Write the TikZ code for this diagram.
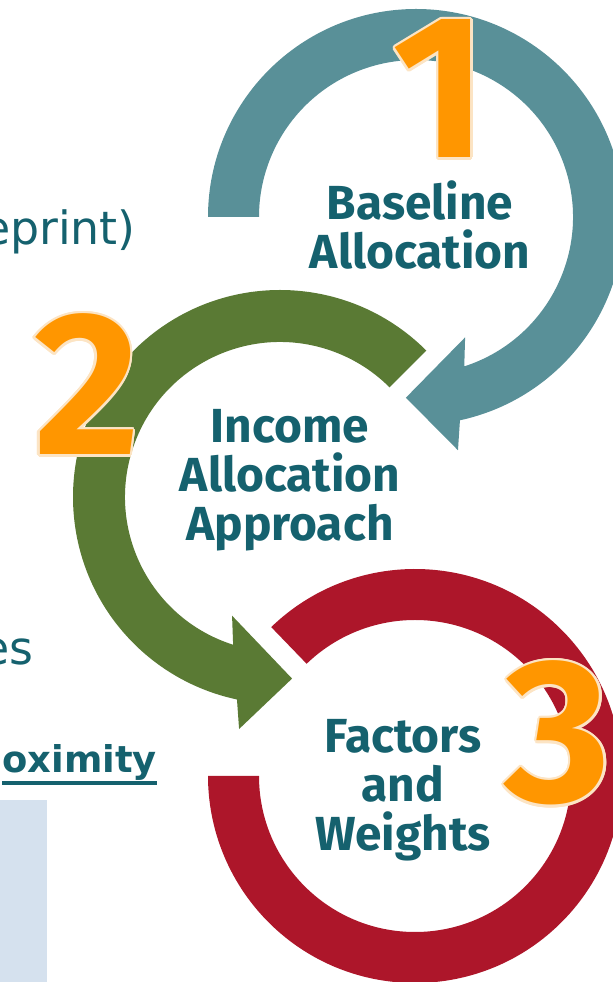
\documentclass[tikz,border=0pt]{standalone}
\usepackage{fontspec}
\setmainfont{Fira Sans}
\newfontfamily\slidefont{DejaVu Sans}
\usepackage[copies]{contour}
\usetikzlibrary{calc}
\definecolor{RingTeal}{RGB}{89,144,152}
\definecolor{RingGreen}{RGB}{90,122,52}
\definecolor{RingRed}{RGB}{173,22,42}
\definecolor{LabelTeal}{RGB}{21,97,110}
\definecolor{NumOrange}{RGB}{255,150,0}
\definecolor{NumCream}{RGB}{252,228,196}
\definecolor{PanelBlue}{RGB}{213,225,238}
\contourlength{2.5bp}
\tikzset{
  digit/.style={inner sep=0pt,anchor=base,text=NumOrange,
                font=\fontsize{205}{205}\selectfont\bfseries},
  steplabel/.style={align=center,anchor=base,inner sep=0pt,text=LabelTeal,
                    font=\fontsize{48}{49.5}\selectfont\bfseries},
  slidetext/.style={inner sep=0pt,anchor=base east,text=LabelTeal,
                    font=\slidefont\fontsize{46}{52}\selectfont},
}
\newcommand{\stepnum}[1]{\contour{NumCream}{#1}}

\begin{document}
\begin{tikzpicture}[x=1bp,y=1bp]
  \useasboundingbox (0,0) rectangle (613,982);
  \clip (0,0) rectangle (613,982);
  \coordinate (c1) at (416,765);
  \coordinate (c2) at (280,485);
  \coordinate (c3) at (415,206);

  % slide text behind the cycle
  \fill[PanelBlue] (0,0) rectangle (47,182);
  \node[slidetext] (prt) at (136,737) {eprint)};
  \node[slidetext] (es) at (34,317) {es};
  \node[slidetext,font=\slidefont\bfseries\fontsize{37}{44}\selectfont] (prox) at (157,209) {oximity};
  \draw[LabelTeal,line width=3.5] ([yshift=-10]prox.base west) -- ([yshift=-10]prox.base east);

  % ring 1
  \fill[RingTeal] ($(c1)+(180:208)$) arc[start angle=180,end angle=-77.8,radius=208]
    -- ($(c1)+(-79.8:237)$) -- ($(c1)+(-93.2:181)$) -- ($(c1)+(-67.8:130)$)
    -- ($(c1)+(-72.1:157)$) arc[start angle=-72.1,end angle=180,radius=157] -- cycle;
  % ring 2
  \fill[RingGreen] ($(c2)+(45:207)$) arc[start angle=45,end angle=258,radius=207]
    -- ($(c2)+(260:235.6)$) -- ($(c2)+(273.8:182)$) -- ($(c2)+(248:128)$)
    -- ($(c2)+(252.4:155)$) arc[start angle=252.4,end angle=45,radius=155] -- cycle;
  % ring 3
  \fill[RingRed] ($(c3)+(134:207)$) arc[start angle=134,end angle=-180,radius=207]
    -- ($(c3)+(-180:156)$) arc[start angle=-180,end angle=134,radius=156] -- cycle;

  % base anchor sits on the last line
  \node[steplabel] (base) at (420,713) {Baseline\\Allocation};
  \node[steplabel] (inc) at (290,441) {Income\\Allocation\\Approach};
  \node[steplabel] (fac) at (403,131) {Factors\\and\\Weights};

  \node[digit] (n1) at (440,824) {\stepnum{1}};
  \node[digit] (n2) at (87,527) {\stepnum{2}};
  \node[digit] (n3) at (558,180) {\stepnum{3}};
\end{tikzpicture}
\end{document}
